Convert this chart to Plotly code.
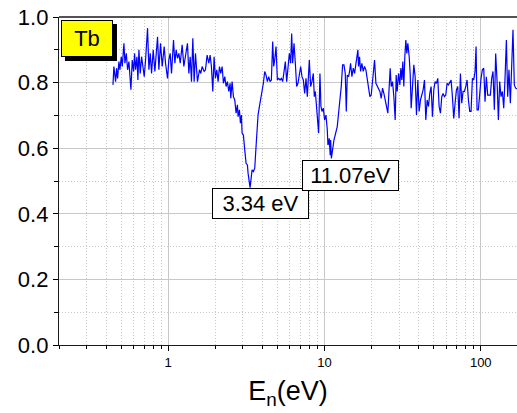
import math
import plotly.graph_objects as go

# Neutron energy (eV) and transmission of the Tb sample
energy = [
    0.443, 0.449, 0.4605, 0.4673, 0.4743, 0.4837, 0.4909, 0.5006, 0.5081, 0.5206,
    0.5284, 0.5389, 0.5495, 0.5604, 0.5771, 0.5886, 0.6003, 0.6092, 0.6182, 0.6304,
    0.6397, 0.6492, 0.6622, 0.6753, 0.6886, 0.7023, 0.7161, 0.7375, 0.7521, 0.7671,
    0.7822, 0.8016, 0.8214, 0.8543, 0.8713, 0.8929, 0.9152, 0.9423, 0.9610, 0.9897,
    1.009, 1.029, 1.050, 1.081, 1.103, 1.124, 1.147, 1.170, 1.193, 1.228,
    1.259, 1.290, 1.328, 1.355, 1.382, 1.409, 1.437, 1.465, 1.494, 1.539,
    1.585, 1.616, 1.648, 1.698,
    1.731, 1.774, 1.818, 1.854, 1.890, 1.928, 1.966, 2.005, 2.045, 2.086,
    2.127, 2.169, 2.213, 2.256, 2.301, 2.347, 2.393, 2.440, 2.489, 2.513,
    2.563, 2.614, 2.666, 2.718, 2.772, 2.800, 2.855, 2.897, 2.940, 2.969,
    3.028, 3.088, 3.149, 3.212, 3.243, 3.34, 3.390, 3.440, 3.508, 3.578,
    3.648, 3.702, 3.757, 3.832, 3.907, 3.985, 4.064, 4.144, 4.227, 4.310,
    4.396, 4.483, 4.572, 4.662, 4.732, 4.802, 4.897, 4.994, 5.093, 5.194,
    5.297, 5.402, 5.508, 5.617, 5.729, 5.842, 5.958, 6.076, 6.166, 6.257,
    6.381, 6.507, 6.636, 6.767, 6.902, 7.038, 7.178, 7.320, 7.466, 7.614,
    7.765,
    7.997, 8.155, 8.317, 8.481, 8.607, 8.735, 8.908, 9.040, 9.174, 9.354,
    9.493, 9.634, 9.824, 10.02, 10.22, 10.42, 10.52, 10.62, 10.72, 10.81,
    10.88, 10.95, 11.01, 11.07, 11.50, 12.07, 12.31, 12.56, 12.80, 13.06,
    13.32, 13.58, 13.79, 13.99, 14.27, 14.47, 14.69, 14.98, 15.28, 15.58,
    15.89, 16.20, 16.36, 16.52, 16.77, 17.02, 17.35, 17.70, 18.05, 18.41,
    18.77, 19.14, 19.52, 19.91, 20.30, 20.71, 20.91, 21.33, 21.75, 22.18,
    22.62, 23.07, 23.52, 23.99, 24.46, 24.95, 25.44, 25.95, 26.33, 26.72,
    27.25, 27.79, 28.34, 28.76, 29.19, 29.77, 30.36, 30.80, 31.26, 31.72,
    32.19, 32.67, 33.16, 33.65, 34.15, 34.84,
    35.35, 35.87, 36.58, 37.30, 38.04, 38.79, 39.56, 40.34, 41.15, 41.96,
    42.79, 43.64, 44.50, 45.39, 46.28, 47.20, 48.13, 49.09, 50.06, 51.05,
    52.06, 53.09, 54.15, 55.22, 56.31, 57.43, 58.56, 59.72, 60.91, 62.11,
    63.34, 64.59, 65.88, 67.18, 68.51, 69.87, 71.25, 72.67, 74.11, 75.57,
    77.07, 78.60, 80.17, 81.75, 83.37, 85.02, 86.70, 88.44, 90.18, 91.96,
    93.33, 94.71, 96.58, 98.49, 100.4, 102.4, 104.5, 106.5, 108.6, 110.8,
    113.0, 115.2, 117.5, 119.8, 122.2, 124.6, 127.1, 129.7, 132.2, 134.8,
    137.5, 140.3, 143.0, 145.9, 148.7, 151.6, 154.7, 157.8, 160.8, 164.0,
    167.3, 172.0,
]

transmission = [
    0.793, 0.849, 0.803, 0.844, 0.813, 0.864, 0.839, 0.879, 0.849, 0.920,
    0.859, 0.889, 0.839, 0.864, 0.778, 0.869, 0.834, 0.889, 0.839, 0.879,
    0.808, 0.900, 0.828, 0.879, 0.849, 0.818, 0.869, 0.966, 0.839, 0.889,
    0.828, 0.900, 0.834, 0.940, 0.839, 0.920, 0.849, 0.910, 0.859, 0.813,
    0.869, 0.889, 0.828, 0.930, 0.859, 0.900, 0.874, 0.889, 0.859, 0.915,
    0.849, 0.889, 0.920, 0.828, 0.879, 0.803, 0.935, 0.803, 0.889, 0.803,
    0.839, 0.828, 0.849, 0.834,
    0.839, 0.884, 0.859, 0.884, 0.849, 0.773, 0.879, 0.813, 0.839, 0.803,
    0.849, 0.828, 0.849, 0.798, 0.818, 0.788, 0.803, 0.773, 0.798, 0.752,
    0.803, 0.757, 0.747, 0.707, 0.732, 0.696, 0.717, 0.676, 0.701, 0.646,
    0.640, 0.595, 0.554, 0.549, 0.524, 0.480, 0.508, 0.534, 0.529, 0.539,
    0.605, 0.671, 0.701, 0.727, 0.747, 0.778, 0.798, 0.834, 0.823, 0.803,
    0.818, 0.803, 0.808, 0.925, 0.849, 0.869, 0.910, 0.808, 0.813, 0.808,
    0.813, 0.803, 0.828, 0.864, 0.803, 0.849, 0.889, 0.859, 0.950, 0.859,
    0.920, 0.859, 0.788, 0.798, 0.828, 0.849, 0.818, 0.808, 0.767, 0.813,
    0.757,
    0.869, 0.788, 0.803, 0.828, 0.757, 0.773, 0.717, 0.696, 0.646, 0.828,
    0.727, 0.712, 0.722, 0.686, 0.701, 0.656, 0.610, 0.615, 0.630, 0.605,
    0.579, 0.625, 0.600, 0.569, 0.625, 0.666, 0.707, 0.747, 0.788, 0.854,
    0.854, 0.828, 0.712, 0.823, 0.818, 0.834, 0.859, 0.818, 0.844, 0.828,
    0.854, 0.874, 0.900, 0.849, 0.879, 0.834, 0.859, 0.834, 0.849, 0.839,
    0.808, 0.778, 0.757, 0.762, 0.813, 0.839, 0.869, 0.798, 0.788, 0.778,
    0.773, 0.752, 0.783, 0.767, 0.747, 0.717, 0.707, 0.788, 0.844, 0.788,
    0.803, 0.757, 0.686, 0.823, 0.773, 0.828, 0.793, 0.844, 0.808, 0.864,
    0.788, 0.879, 0.930, 0.889, 0.920, 0.879,
    0.828, 0.722, 0.788, 0.854, 0.818, 0.701, 0.808, 0.712, 0.747, 0.762,
    0.778, 0.808, 0.686, 0.747, 0.727, 0.767, 0.788, 0.696, 0.778, 0.803,
    0.798, 0.813, 0.727, 0.707, 0.757, 0.767, 0.757, 0.762, 0.798, 0.793,
    0.803, 0.808, 0.757, 0.691, 0.737, 0.778, 0.788, 0.691, 0.828, 0.737,
    0.773, 0.773, 0.788, 0.808, 0.747, 0.712, 0.712, 0.813, 0.808, 0.834,
    0.910, 0.717, 0.717, 0.773, 0.813, 0.839, 0.844, 0.742, 0.818, 0.762,
    0.762, 0.762, 0.813, 0.834, 0.717, 0.889, 0.808, 0.686, 0.803, 0.757,
    0.773, 0.722, 0.813, 0.930, 0.757, 0.839, 0.737, 0.859, 0.961, 0.793,
    0.783, 0.780,
]

# Resonance labels: energy of the dip and where its tag sits (eV, transmission)
resonance_labels = ["3.34 eV", "11.07eV"]
label_anchor_energy = [3.92, 14.72]
label_anchor_value = [0.431, 0.517]

sample_name = "Tb"
x_tickvals = [1, 10, 100]
x_ticktext = ["1", "10", "100"]
x_limits = [0.2, 170.6]

FONT = "Liberation Sans, Arial, sans-serif"
GRID = "#c8c8c8"

fig = go.Figure(
    go.Scatter(
        x=energy,
        y=transmission,
        mode="lines",
        line=dict(color="#0000ff", width=1.2),
        hoverinfo="x+y",
    )
)

for text, ex, ty in zip(resonance_labels, label_anchor_energy, label_anchor_value):
    fig.add_annotation(
        x=math.log10(ex), y=ty, xref="x", yref="y",
        xanchor="center", yanchor="middle",
        text=text, showarrow=False,
        font=dict(family=FONT, size=22, color="black"),
        bgcolor="white", bordercolor="black", borderwidth=1, borderpad=0,
        width=95, height=29,
    )

# Sample tag with drop shadow in the upper-left corner
fig.add_shape(
    type="rect", xref="paper", yref="paper",
    x0=0.0131, x1=0.1266, y0=0.8659, y1=0.9787,
    fillcolor="black", line=dict(width=0), layer="above",
)
fig.add_annotation(
    x=0.0611, y=0.9345, xref="paper", yref="paper",
    xanchor="center", yanchor="middle",
    text=sample_name, showarrow=False,
    font=dict(family=FONT, size=22, color="black"),
    bgcolor="#ffff00", bordercolor="black", borderwidth=1, borderpad=0,
    width=50, height=35,
)

# Frame line along the top of the plotting area
fig.add_shape(
    type="line", xref="paper", yref="paper",
    x0=0, x1=1, y0=1, y1=1,
    line=dict(color="#1a1a1a", width=1.3), layer="above",
)

fig.update_layout(
    width=517, height=413,
    margin=dict(l=59, r=0, t=17, b=68),
    paper_bgcolor="white", plot_bgcolor="white",
    showlegend=False,
    font=dict(family=FONT, color="black"),
    xaxis=dict(
        type="log",
        range=[math.log10(x_limits[0]), math.log10(x_limits[1])],
        tickmode="array", tickvals=x_tickvals, ticktext=x_ticktext,
        tickfont=dict(family=FONT, size=13, color="black"),
        ticks="outside", ticklen=5, tickwidth=1, tickcolor="black",
        showline=True, linecolor="#1a1a1a", linewidth=1.3, mirror=False,
        showgrid=True, gridcolor=GRID, gridwidth=1,
        zeroline=False,
        minor=dict(
            dtick="D1", ticks="outside", ticklen=3, tickcolor="black",
            showgrid=True, gridcolor=GRID, griddash="1px,2px", gridwidth=1,
        ),
        title=dict(text="E<sub>n</sub>(eV)", font=dict(family=FONT, size=27, color="black"), standoff=12),
    ),
    yaxis=dict(
        range=[0, 1],
        tick0=0, dtick=0.2, tickformat=".1f",
        tickfont=dict(family=FONT, size=22, color="black"),
        ticks="outside", ticklen=5, tickwidth=1, tickcolor="black",
        showline=True, linecolor="#1a1a1a", linewidth=1.3, mirror=False,
        showgrid=True, gridcolor=GRID, gridwidth=1,
        zeroline=False,
        minor=dict(
            dtick=0.1, ticks="outside", ticklen=4, tickcolor="black",
            showgrid=True, gridcolor=GRID, griddash="1px,2px", gridwidth=1,
        ),
    ),
)

fig.write_html("out.html")
